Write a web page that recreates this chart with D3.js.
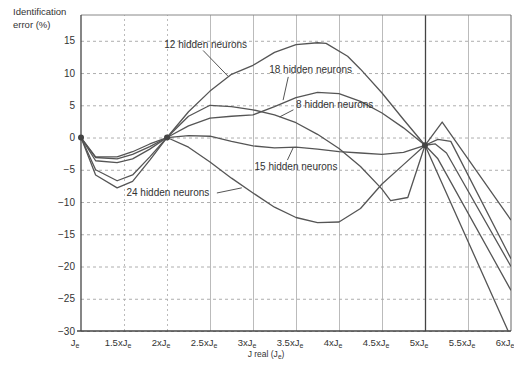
<!DOCTYPE html>
<html><head><meta charset="utf-8">
<script src="https://cdn.jsdelivr.net/npm/d3@7"></script>
<style>body{margin:0;background:#fff;}svg{display:block;}</style>
</head><body>
<svg id="c" width="514" height="373"></svg>
<script>
// ---- data ----
const xTickValues = [1, 1.5, 2, 2.5, 3, 3.5, 4, 4.5, 5, 5.5, 6];
const xTickPrefix = ["", "1.5x", "2x", "2.5x", "3x", "3.5x", "4x", "4.5x", "5x", "5.5x", "6x"];
const yTickValues = [15, 10, 5, 0, -5, -10, -15, -20, -25, -30];

const s12x = [1, 1.17, 1.42, 1.6, 1.8, 2, 2.25, 2.5, 2.75, 3, 3.25, 3.5, 3.75, 3.85, 4.1, 4.25, 4.5, 4.75, 5, 6];
const s12y = [0, -5.0, -6.7, -5.8, -3.0, 0, 4.0, 7.2, 9.8, 11.2, 13.2, 14.4, 14.7, 14.6, 12.6, 10.6, 6.9, 2.8, -1.2, -31];

const s18x = [1, 1.17, 1.42, 1.6, 1.8, 2, 2.25, 2.5, 2.75, 3, 3.25, 3.5, 3.75, 4, 4.25, 4.5, 4.75, 5, 5.15, 5.3, 6];
const s18y = [0, -3.1, -3.3, -2.6, -1.4, 0, 1.8, 3.0, 3.3, 3.5, 4.8, 6.2, 7.0, 6.8, 5.6, 3.8, 1.5, -1.2, -0.3, -0.6, -18.8];

const s8x = [1, 1.17, 1.42, 1.6, 1.8, 2, 2.25, 2.5, 2.75, 3, 3.25, 3.5, 3.75, 4, 4.25, 4.5, 4.6, 4.8, 5, 5.12, 5.25, 6];
const s8y = [0, -3.6, -3.9, -3.3, -1.8, 0, 3.3, 5.0, 4.8, 4.3, 3.5, 2.3, 0.5, -1.7, -4.5, -8.0, -9.8, -9.3, -1.2, -1.0, -2.4, -20];

const s15x = [1, 1.17, 1.42, 1.6, 1.8, 2, 2.25, 2.5, 2.75, 3, 3.25, 3.5, 3.75, 4, 4.25, 4.5, 4.75, 5, 5.15, 6];
const s15y = [0, -3.0, -3.0, -2.2, -1.0, 0, 0.3, 0.2, -0.6, -1.3, -1.6, -1.5, -1.8, -2.2, -2.4, -2.6, -2.3, -1.2, -3.3, -23.7];

const s24x = [1, 1.17, 1.42, 1.6, 1.8, 2, 2.25, 2.5, 2.75, 3, 3.25, 3.5, 3.75, 4, 4.25, 4.5, 4.75, 5, 5.2, 6];
const s24y = [0, -5.8, -7.8, -6.8, -3.5, 0, -1.5, -3.8, -6.3, -8.6, -10.8, -12.4, -13.2, -13.1, -11.0, -7.2, -4.2, -1.2, 2.4, -12.8];

const junctionX = [1, 2, 5];
const junctionY = [0, 0, -1.2];

const labelTexts = ["12 hidden neurons", "18 hidden neurons", "8 hidden neurons", "15 hidden neurons", "24 hidden neurons"];

// ---- drawing ----
const svg = d3.select("#c");
const L = 81, R = 511, T = 15, B = 331;
const x = d3.scaleLinear().domain([1, 6]).range([L, R]);
const y = d3.scaleLinear().domain([-30, 19]).range([B, T]);
const font = "Liberation Sans, Arial, sans-serif";
const ink = "#333";

svg.append("defs").append("clipPath").attr("id", "clip")
  .append("rect").attr("x", L).attr("y", T).attr("width", R - L).attr("height", B - T);

// horizontal grid
const gy = svg.append("g").attr("transform", `translate(${L},0)`)
  .call(d3.axisLeft(y).tickValues(yTickValues).tickSize(-(R - L)).tickFormat(""));
gy.select(".domain").remove();
gy.selectAll(".tick line").attr("stroke", "#999").attr("stroke-width", 0.8).attr("stroke-dasharray", "3,3");

// vertical grid
const gx = svg.append("g").attr("transform", `translate(0,${B})`)
  .call(d3.axisBottom(x).tickValues(xTickValues.slice(1, -1)).tickSize(-(B - T)).tickFormat(""));
gx.select(".domain").remove();
gx.selectAll(".tick line")
  .attr("stroke", d => d === 5 ? "#444" : "#aaa")
  .attr("stroke-width", d => d === 5 ? 1.3 : 0.8)
  .attr("stroke-dasharray", d => d === 5 ? null : (d === 1.5 || d === 2 ? "2,3" : null));

// frame
svg.append("line").attr("x1", L).attr("x2", R).attr("y1", T).attr("y2", T).attr("stroke", "#888").attr("stroke-width", 1);
svg.append("line").attr("x1", R).attr("x2", R).attr("y1", T).attr("y2", B).attr("stroke", "#666").attr("stroke-width", 1);
svg.append("line").attr("x1", L).attr("x2", L).attr("y1", T).attr("y2", B).attr("stroke", "#444").attr("stroke-width", 1.3);
svg.append("line").attr("x1", L - 4).attr("x2", R).attr("y1", B).attr("y2", B).attr("stroke", "#444").attr("stroke-width", 1.3);

// y tick labels
const yAx = svg.append("g").attr("transform", `translate(${L},0)`)
  .call(d3.axisLeft(y).tickValues(yTickValues).tickSize(0).tickPadding(6));
yAx.select(".domain").remove();
yAx.selectAll("text").attr("font-family", font).attr("font-size", 10).attr("fill", ink);

// x tick labels with subscript
const xl = svg.append("g");
xTickValues.forEach((v, i) => {
  const t = xl.append("text").attr("x", x(v) - 6).attr("y", B + 15)
    .attr("text-anchor", "middle").attr("font-family", font).attr("font-size", 9.5).attr("fill", ink);
  t.append("tspan").text(xTickPrefix[i] + "J");
  t.append("tspan").attr("font-size", 7).attr("dy", 2).text("e");
});

// axis titles
const xt = svg.append("text").attr("x", 266).attr("y", B + 26).attr("text-anchor", "middle")
  .attr("font-family", font).attr("font-size", 8.5).attr("fill", ink);
xt.append("tspan").text("J real (J");
xt.append("tspan").attr("font-size", 6.5).attr("dy", 1.5).text("e");
xt.append("tspan").attr("dy", -1.5).text(")");
svg.append("text").attr("x", 13).attr("y", 15).attr("font-family", font).attr("font-size", 9.5).attr("fill", ink).text("Identification");
svg.append("text").attr("x", 13).attr("y", 28).attr("font-family", font).attr("font-size", 9.5).attr("fill", ink).text("error (%)");

// curves
const allSeries = [[s12x, s12y], [s18x, s18y], [s8x, s8y], [s15x, s15y], [s24x, s24y]];
const line = d3.line().x(d => x(d[0])).y(d => y(d[1]));
const cg = svg.append("g").attr("clip-path", "url(#clip)");
allSeries.forEach(([xs, ys]) => {
  cg.append("path").datum(xs.map((v, i) => [v, ys[i]]))
    .attr("d", line).attr("fill", "none").attr("stroke", "#555").attr("stroke-width", 1.3)
    .attr("stroke-linejoin", "round");
});

// junction dots
svg.append("g").selectAll("circle").data(junctionX).join("circle")
  .attr("cx", d => x(d)).attr("cy", (d, i) => y(junctionY[i])).attr("r", 3).attr("fill", "#444");

// annotations: [textX, textY, leader from (x, v), leader to (x, v)]
const annPos = [
  [2.45, 13.9, 2.42, 13.5, 2.71, 9.5],
  [3.67, 10.0, 3.41, 9.4, 3.35, 5.8],
  [3.95, 4.6, 3.47, 4.3, 3.31, 3.2],
  [3.5, -5.0, 3.40, -3.5, 3.47, -1.5],
  [2.01, -9.1, 2.58, -8.6, 2.87, -7.8]
];
const ag = svg.append("g");
labelTexts.forEach((txt, i) => {
  const p = annPos[i];
  ag.append("line").attr("x1", x(p[2])).attr("y1", y(p[3])).attr("x2", x(p[4])).attr("y2", y(p[5]))
    .attr("stroke", "#555").attr("stroke-width", 1);
  ag.append("text").attr("x", x(p[0])).attr("y", y(p[1])).attr("text-anchor", "middle")
    .attr("font-family", font).attr("font-size", 10).attr("fill", ink).text(txt);
});
</script>
</body></html>
